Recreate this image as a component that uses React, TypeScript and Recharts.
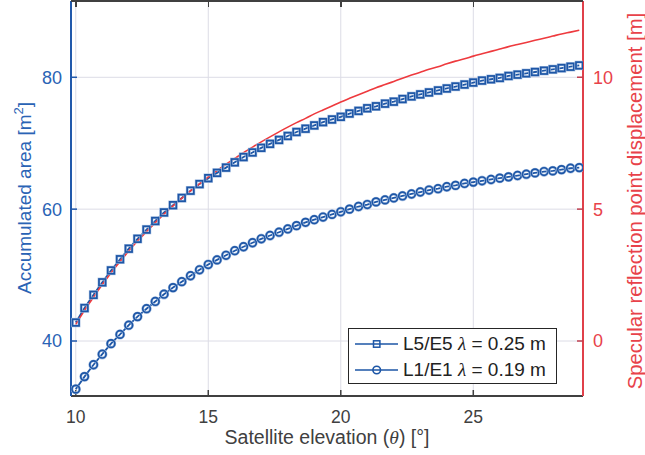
import React from "react";
import { ComposedChart, Line, XAxis, YAxis, CartesianGrid, Legend } from "recharts";

// satellite elevation [deg]
const elevation = [
  10, 10.33, 10.67, 11, 11.33, 11.67, 12, 12.33, 12.67, 13, 13.33, 13.67, 14, 14.33, 14.67,
  15, 15.33, 15.67, 16, 16.33, 16.67, 17, 17.33, 17.67, 18, 18.33, 18.67, 19, 19.33, 19.67,
  20, 20.33, 20.67, 21, 21.33, 21.67, 22, 22.33, 22.67, 23, 23.33, 23.67, 24, 24.33, 24.67,
  25, 25.33, 25.67, 26, 26.33, 26.67, 27, 27.33, 27.67, 28, 28.33, 28.67, 29,
];

// accumulated area [m^2], L5/E5
const areaL5 = [
  42.8, 45.0, 47.0, 48.9, 50.7, 52.4, 54.0, 55.5, 56.9, 58.2, 59.5, 60.6, 61.7, 62.8, 63.8,
  64.7, 65.5, 66.3, 67.1, 67.9, 68.6, 69.3, 69.9, 70.5, 71.1, 71.7, 72.2, 72.7, 73.2, 73.6,
  74.0, 74.5, 74.9, 75.3, 75.6, 76.0, 76.3, 76.7, 77.1, 77.4, 77.7, 78.0, 78.3, 78.6, 78.9,
  79.2, 79.5, 79.7, 79.9, 80.2, 80.4, 80.6, 80.8, 81.0, 81.2, 81.4, 81.6, 81.8,
];

// accumulated area [m^2], L1/E1
const areaL1 = [
  32.7, 34.6, 36.4, 38.0, 39.6, 41.0, 42.4, 43.7, 44.9, 46.0, 47.1, 48.1, 49.0, 49.9, 50.8,
  51.6, 52.3, 53.0, 53.7, 54.3, 54.9, 55.5, 56.0, 56.5, 57.0, 57.5, 58.0, 58.4, 58.8, 59.2,
  59.6, 60.0, 60.4, 60.7, 61.1, 61.4, 61.7, 62.0, 62.3, 62.6, 62.9, 63.1, 63.4, 63.6, 63.9,
  64.1, 64.3, 64.5, 64.7, 64.9, 65.1, 65.3, 65.5, 65.7, 65.8, 66.0, 66.2, 66.3,
];

// specular reflection point displacement [m]
const displacement = [
  0.62, 1.16, 1.66, 2.14, 2.58, 3.01, 3.41, 3.79, 4.14, 4.49, 4.81, 5.12, 5.41, 5.69, 5.96,
  6.22, 6.46, 6.70, 6.92, 7.14, 7.35, 7.55, 7.74, 7.93, 8.11, 8.28, 8.44, 8.61, 8.76, 8.91,
  9.06, 9.20, 9.34, 9.47, 9.60, 9.72, 9.84, 9.96, 10.08, 10.19, 10.30, 10.40, 10.51, 10.61, 10.70,
  10.80, 10.89, 10.98, 11.07, 11.16, 11.24, 11.32, 11.40, 11.48, 11.56, 11.64, 11.71, 11.78,
];

const xTicks = [10, 15, 20, 25];
const leftTicks = [40, 60, 80];
const rightTicks = [0, 5, 10];

const legendItems = [
  { key: "areaL5", band: "L5/E5", lambda: "0.25", marker: "square" },
  { key: "areaL1", band: "L1/E1", lambda: "0.19", marker: "circle" },
];

const rows = elevation.map((e, i) => ({
  elevation: e,
  areaL5: areaL5[i],
  areaL1: areaL1[i],
  displacement: displacement[i],
}));

const BLUE = "#1d56a6";
const BLUE_TEXT = "#2a63b5";
const RED = "#ee3a3e";
const RED_TEXT = "#e8424a";
const GRAY = "#404040";
const FONT = "'Liberation Sans', Arial, Helvetica, sans-serif";
const MATH = "'Liberation Serif', 'DejaVu Serif', serif";
const X_DOMAIN: [number, number] = [9.82, 29.14];
const LEFT_DOMAIN: [number, number] = [31.66, 91.57];

// plot box in px (left axis width 71, right axis width 62)
const PLOT_LEFT = 71;
const PLOT_WIDTH = 645 - 71 - 62;

const SquareDot = (props: any) => {
  const { cx, cy, index } = props;
  if (cx == null || cy == null) return <g key={`sq-${index}`} />;
  return (
    <g key={`sq-${index}`}>
      <rect x={cx - 3.3} y={cy - 3.3} width={6.6} height={6.6} fill="none" stroke="#a9c0e2" strokeWidth={2.8} />
      <rect x={cx - 3.3} y={cy - 3.3} width={6.6} height={6.6} fill="none" stroke={BLUE} strokeWidth={1.7} />
    </g>
  );
};

const CircleDot = (props: any) => {
  const { cx, cy, index } = props;
  if (cx == null || cy == null) return <g key={`ci-${index}`} />;
  return (
    <g key={`ci-${index}`}>
      <circle cx={cx} cy={cy} r={3.8} fill="none" stroke="#a9c0e2" strokeWidth={2.8} />
      <circle cx={cx} cy={cy} r={3.8} fill="none" stroke={BLUE} strokeWidth={1.7} />
    </g>
  );
};

const renderLegend = () => (
  <div
    style={{
      width: 209,
      height: 56,
      boxSizing: "border-box",
      border: "1px solid #262626",
      background: "#fff",
      paddingTop: 2,
      fontFamily: FONT,
    }}
  >
    {legendItems.map((item) => (
      <div key={item.key} style={{ display: "flex", alignItems: "center", height: 26 }}>
        <svg width={54} height={26} style={{ flex: "none" }}>
          <line x1={6} x2={49} y1={13} y2={13} stroke={BLUE} strokeWidth={1.6} />
          {item.marker === "square" ? (
            <rect x={24.5} y={9.8} width={6.4} height={6.4} fill="none" stroke={BLUE} strokeWidth={1.5} />
          ) : (
            <circle cx={27.7} cy={13} r={3.8} fill="none" stroke={BLUE} strokeWidth={1.6} />
          )}
        </svg>
        <span style={{ fontSize: 19, color: "#222", whiteSpace: "nowrap" }}>
          {item.band}{" "}
          <span style={{ fontFamily: MATH, fontStyle: "italic" }}>λ</span>
          {" = "}
          {item.lambda} m
        </span>
      </div>
    ))}
  </div>
);

const LeftLabel = () => (
  <text transform="translate(31,198) rotate(-90)" textAnchor="middle" fill={BLUE_TEXT} fontSize={19} fontFamily={FONT}>
    Accumulated area [m
    <tspan dy={-8} fontSize={13}>2</tspan>
    <tspan dy={8}>]</tspan>
  </text>
);

const RightLabel = () => (
  <text transform="translate(642,201) rotate(-90)" textAnchor="middle" fill={RED_TEXT} fontSize={20.3} fontFamily={FONT}>
    Specular reflection point displacement [m]
  </text>
);

const BottomLabel = () => (
  <text x={327} y={444} textAnchor="middle" fill={GRAY} fontSize={19.5} fontFamily={FONT}>
    Satellite elevation (
    <tspan fontFamily={MATH} fontStyle="italic">θ</tspan>
    ) [°]
  </text>
);

// top edge of the axes box with inward ticks at the x tick positions
const TopFrame = () => (
  <>
    <div
      style={{
        position: "absolute",
        left: PLOT_LEFT,
        top: 0,
        width: PLOT_WIDTH,
        height: 2,
        background: GRAY,
        pointerEvents: "none",
      }}
    />
    {xTicks.map((t) => (
      <div
        key={t}
        style={{
          position: "absolute",
          left: PLOT_LEFT + ((t - X_DOMAIN[0]) / (X_DOMAIN[1] - X_DOMAIN[0])) * PLOT_WIDTH - 0.75,
          top: 0,
          width: 1.5,
          height: 7,
          background: GRAY,
          pointerEvents: "none",
        }}
      />
    ))}
  </>
);

export default function App() {
  return (
    <div style={{ position: "absolute", left: 0, top: 0, width: 645, height: 455, background: "#fff" }}>
      <ComposedChart
        width={645}
        height={455}
        data={rows}
        margin={{ top: 1, right: 0, bottom: 0, left: 0 }}
        style={{ fontFamily: FONT }}
      >
        <CartesianGrid xAxisId="bottom" yAxisId="left" stroke="#dcdce6" strokeWidth={1} />
        <XAxis
          xAxisId="bottom"
          dataKey="elevation"
          type="number"
          domain={X_DOMAIN}
          allowDataOverflow
          ticks={xTicks}
          height={59}
          tickSize={-6}
          tickMargin={21}
          axisLine={{ stroke: GRAY, strokeWidth: 2 }}
          tickLine={{ stroke: GRAY, strokeWidth: 1.5 }}
          tick={{ fill: GRAY, fontSize: 17.5 }}
          label={<BottomLabel />}
        />
        <YAxis
          yAxisId="left"
          type="number"
          domain={LEFT_DOMAIN}
          allowDataOverflow
          ticks={leftTicks}
          width={71}
          tickSize={-6}
          tickMargin={15}
          axisLine={{ stroke: "#2159ab", strokeWidth: 2 }}
          tickLine={{ stroke: "#2159ab", strokeWidth: 1.5 }}
          tick={{ fill: BLUE_TEXT, fontSize: 18 }}
          label={<LeftLabel />}
        />
        <YAxis
          yAxisId="right"
          orientation="right"
          type="number"
          domain={[-2.085, 12.89]}
          allowDataOverflow
          ticks={rightTicks}
          width={62}
          tickSize={-6}
          tickMargin={16}
          axisLine={{ stroke: "#e0404a", strokeWidth: 2 }}
          tickLine={{ stroke: "#c04050", strokeWidth: 1.5 }}
          tick={{ fill: RED_TEXT, fontSize: 18 }}
          label={<RightLabel />}
        />
        <Line
          xAxisId="bottom"
          yAxisId="left"
          dataKey="areaL5"
          name="L5/E5"
          stroke={BLUE}
          strokeWidth={1.8}
          dot={SquareDot}
          activeDot={false}
          isAnimationActive={false}
        />
        <Line
          xAxisId="bottom"
          yAxisId="left"
          dataKey="areaL1"
          name="L1/E1"
          stroke={BLUE}
          strokeWidth={1.8}
          dot={CircleDot}
          activeDot={false}
          isAnimationActive={false}
        />
        <Line
          xAxisId="bottom"
          yAxisId="right"
          dataKey="displacement"
          name="displacement"
          type="monotone"
          stroke={RED}
          strokeWidth={1.6}
          dot={false}
          activeDot={false}
          legendType="none"
          isAnimationActive={false}
        />
        <Legend
          layout="vertical"
          align="center"
          verticalAlign="middle"
          content={renderLegend}
          wrapperStyle={{ left: 348, top: 328, width: 209, height: 56 }}
        />
      </ComposedChart>
      <TopFrame />
    </div>
  );
}
